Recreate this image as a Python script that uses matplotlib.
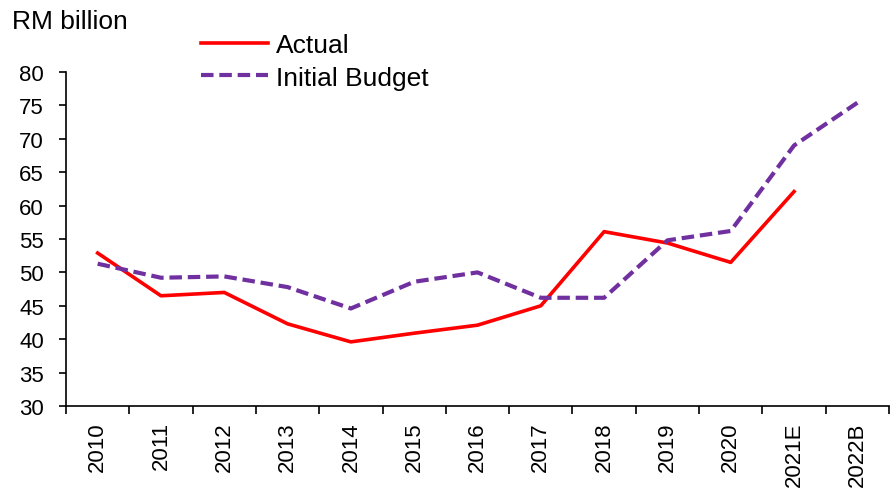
import matplotlib.pyplot as plt
import numpy as np

plt.rcParams["font.family"] = ["Liberation Sans", "DejaVu Sans"]

# ---- Data ----
years = ["2010", "2011", "2012", "2013", "2014", "2015", "2016",
         "2017", "2018", "2019", "2020", "2021E", "2022B"]
actual = [52.9, 46.5, 47.0, 42.3, 39.6, 40.9, 42.1, 45.0, 56.1, 54.4, 51.5, 62.1]
budget = [51.3, 49.2, 49.4, 47.8, 44.6, 48.6, 50.0, 46.2, 46.2, 54.8, 56.2, 69.0, 75.4]
y_ticks = [30, 35, 40, 45, 50, 55, 60, 65, 70, 75, 80]

W, H = 891, 489
fig = plt.figure(figsize=(W / 100, H / 100), dpi=100)
ax = fig.add_axes([66 / W, 1 - 407 / H, (889 - 66) / W, (407 - 73) / H])

x = np.arange(len(years))
ax.plot(x[:len(actual)], actual, color="#FF0000", linewidth=2.6, label="Actual")
ax.plot(x, budget, color="#7030A0", linewidth=3.0, linestyle=(0, (3.0, 1.4)),
        label="Initial Budget")

ax.set_xlim(-0.5, len(years) - 0.5)
ax.set_ylim(30, 80)
ax.set_yticks(y_ticks)

# category labels at centres, tick marks at boundaries
ax.set_xticks(x)
ax.set_xticklabels(years, rotation=90, fontsize=16)
ax.set_xticks(np.arange(-0.5, len(years)), minor=True)
ax.tick_params(axis="x", which="major", length=0, pad=11)
ax.tick_params(axis="x", which="minor", length=6, width=1.2, direction="out")
ax.tick_params(axis="y", length=5, width=1.2, direction="out", labelsize=16, pad=11)

for side in ("top", "right"):
    ax.spines[side].set_visible(False)
for side in ("left", "bottom"):
    ax.spines[side].set_linewidth(1.2)

fig.text(12 / W, 1 - 22 / H, "RM billion", fontsize=19, va="center", ha="left")

fig.legend(loc="upper left", bbox_to_anchor=(201 / W, 1 - 34 / H), frameon=False,
           fontsize=19, handlelength=2.55, handletextpad=0.3, labelspacing=0.33,
           borderaxespad=0, borderpad=0)

fig.savefig("out.png", dpi=100)
